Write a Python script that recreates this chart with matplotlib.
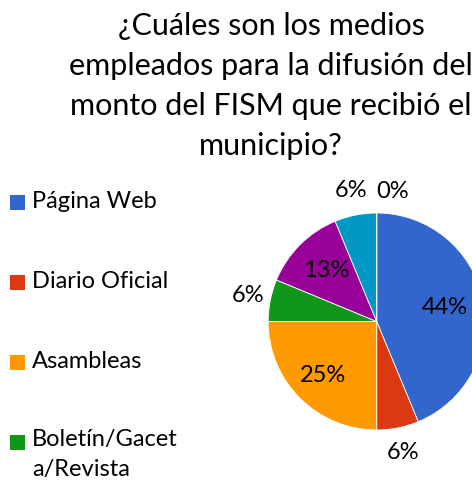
import math
import matplotlib
matplotlib.use("Agg")
import matplotlib.pyplot as plt
from matplotlib.patches import Rectangle

plt.rcParams['font.family'] = ['Lato', 'DejaVu Sans']

title_lines = ["¿Cuáles son los medios",
               "empleados para la difusión del",
               "monto del FISM que recibió el",
               "municipio?"]
legend_labels = ["Página Web", "Diario Oficial", "Asambleas", "Boletín/Gacet\na/Revista"]
counts = [7, 1, 4, 1, 2, 1, 0]
colors = ["#3366CC", "#DC3912", "#FF9900", "#109618", "#990099", "#0099C6", "#DD4477"]
label_dist = [0.64, 1.23, 0.70, 1.21, 0.66, 1.23, 1.20]

W, H = 472, 483
fig = plt.figure(figsize=(W / 100, H / 100), dpi=100)

# title lines, centred on the same axis
title_y = [26, 66, 106, 146]
for line, y in zip(title_lines, title_y):
    fig.text(271 / W, 1 - y / H, line, ha='center', va='center', fontsize=22, color='#000000')

# legend down the left side
for i, lab in enumerate(legend_labels):
    yc = 202 + 80 * i
    fig.patches.append(Rectangle((10 / W, 1 - (yc + 7.5) / H), 15 / W, 15 / H,
                                 transform=fig.transFigure, facecolor=colors[i],
                                 edgecolor='none'))
    if '\n' in lab:
        fig.text(32 / W, 1 - (yc - 13) / H, lab, ha='left', va='top', fontsize=17,
                 linespacing=1.55)
    else:
        fig.text(32 / W, 1 - yc / H, lab, ha='left', va='center', fontsize=17)

# pie, centre ~ (376.7, 321.5) px, radius ~108.5 px
cx, cy, r = 376.7, 321.5, 108.5
ax = fig.add_axes([(cx - r) / W, 1 - (cy + r) / H, 2 * r / W, 2 * r / H])
wedges, _ = ax.pie(counts, colors=colors, startangle=90, counterclock=False,
                   wedgeprops=dict(edgecolor='white', linewidth=0.6))
ax.set_xlim(-1, 1)
ax.set_ylim(-1, 1)
ax.set_axis_off()

total = sum(counts)
for w, c, d in zip(wedges, counts, label_dist):
    ang = math.radians((w.theta1 + w.theta2) / 2)
    pct = int(100 * c / total + 0.5)
    ha = 'left' if c == 0 else 'center'
    ax.text(d * math.cos(ang), d * math.sin(ang), f"{pct}%", ha=ha, va='center',
            fontsize=17, clip_on=False)

fig.savefig("out.png", dpi=100)
